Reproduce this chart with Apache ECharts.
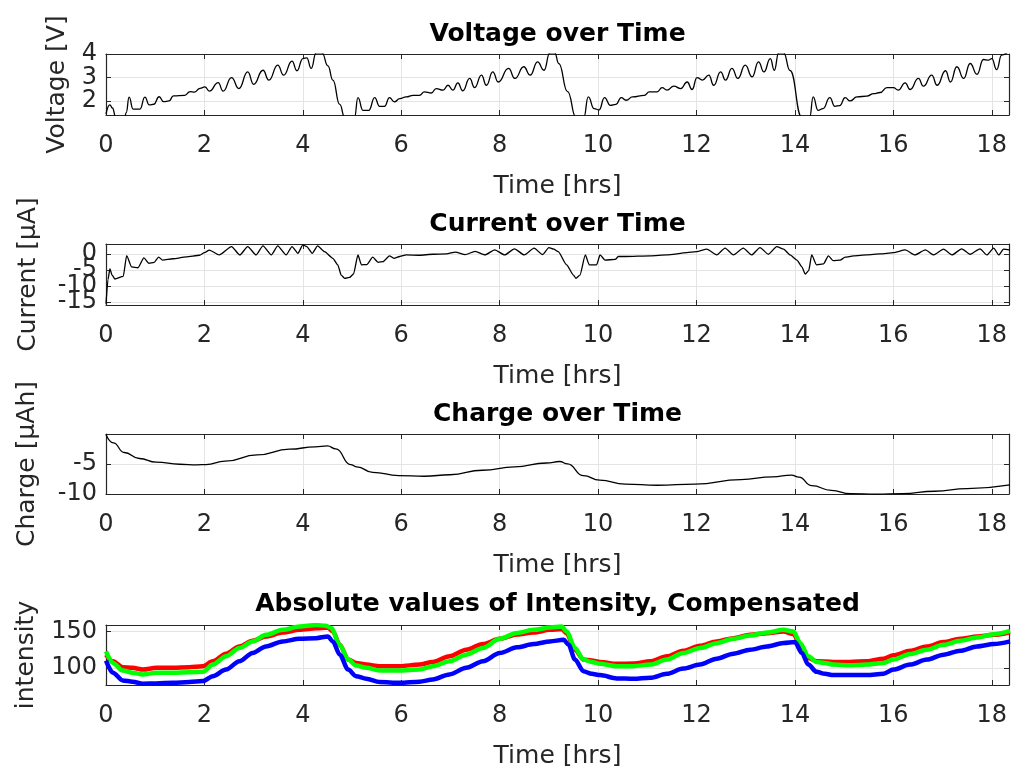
<!DOCTYPE html>
<html>
<head>
<meta charset="utf-8">
<script src="https://cdn.jsdelivr.net/npm/echarts@6/dist/echarts.min.js"></script>
<style>
  html, body { margin: 0; padding: 0; background: #ffffff; }
  #chart { width: 1013px; height: 774px; }
</style>
</head>
<body>
<div id="chart"></div>
<script>
// ---- data: [time in hours, value] ----
const voltage = [
  [0, 1.45], [0.08, 1.83], [0.13, 1.7], [0.2, 1.3], [0.38, 1.3], [0.41, 1.5], [0.47, 2.16], [0.55, 1.65],
  [0.69, 1.65], [0.79, 2.16], [0.88, 1.83], [0.97, 1.86], [1.08, 2.18], [1.17, 1.97], [1.28, 2.0], [1.37, 2.22],
  [1.6, 2.24], [1.71, 2.4], [1.8, 2.38], [1.91, 2.54], [2.01, 2.6], [2.1, 2.42], [2.28, 2.78], [2.38, 2.42],
  [2.55, 3.0], [2.7, 2.53], [2.88, 3.24], [3.0, 2.71], [3.19, 3.31], [3.31, 2.89], [3.49, 3.53], [3.61, 3.1],
  [3.78, 3.7], [3.88, 3.29], [4.0, 3.81], [4.08, 3.84], [4.17, 3.39], [4.27, 4.05], [4.39, 4.05], [4.51, 3.5],
  [4.61, 2.89], [4.75, 1.85], [4.85, 1.3],
  [5.05, 1.3], [5.12, 2.14], [5.22, 1.6], [5.34, 1.6], [5.46, 2.14], [5.56, 1.77], [5.66, 1.77], [5.76, 2.14],
  [5.86, 1.96], [5.97, 2.1], [6.1, 2.17], [6.24, 2.24], [6.37, 2.24], [6.47, 2.39], [6.61, 2.34], [6.71, 2.53],
  [6.85, 2.46], [6.95, 2.67], [7.05, 2.46], [7.15, 2.77], [7.25, 2.43], [7.39, 2.96], [7.49, 2.57], [7.63, 3.1],
  [7.73, 2.67], [7.86, 3.24], [7.97, 2.81], [8.18, 3.39], [8.31, 2.96], [8.49, 3.46], [8.62, 3.1], [8.77, 3.67],
  [8.9, 3.31], [9.02, 4.05], [9.12, 4.05], [9.2, 3.6], [9.38, 2.4], [9.55, 1.3],
  [9.71, 1.3], [9.8, 2.17], [9.92, 1.67], [10.02, 1.62], [10.13, 2.14], [10.25, 1.81], [10.36, 1.85], [10.47, 2.14],
  [10.57, 2.03], [10.7, 2.17], [10.94, 2.24], [11.04, 2.39], [11.2, 2.39], [11.3, 2.57], [11.4, 2.46], [11.54, 2.63],
  [11.68, 2.53], [11.81, 2.81], [11.91, 2.49], [12.01, 3.0], [12.12, 2.89], [12.25, 3.1], [12.35, 2.67], [12.49, 3.24],
  [12.59, 2.89], [12.72, 3.39], [12.84, 2.96], [12.99, 3.53], [13.13, 3.03], [13.26, 3.67], [13.37, 3.24], [13.5, 3.81],
  [13.58, 3.31], [13.67, 4.05], [13.77, 4.05], [13.9, 3.3], [14.14, 1.3],
  [14.3, 1.3], [14.37, 2.17], [14.47, 1.6], [14.57, 1.67], [14.71, 2.14], [14.81, 1.77], [14.91, 1.8], [15.02, 2.14],
  [15.12, 2.0], [15.26, 2.17], [15.46, 2.21], [15.6, 2.31], [15.73, 2.36], [15.87, 2.57], [16.0, 2.57], [16.1, 2.46],
  [16.24, 2.77], [16.34, 2.49], [16.51, 2.96], [16.61, 2.63], [16.78, 3.1], [16.89, 2.67], [17.06, 3.29], [17.16, 2.81],
  [17.29, 3.46], [17.43, 2.96], [17.56, 3.6], [17.7, 3.14], [17.83, 3.77], [17.93, 3.74], [18.0, 3.81], [18.1, 3.34],
  [18.2, 3.96], [18.37, 4.2]
];

const current = [
  [0, -15.5], [0.04, -8], [0.08, -4.6], [0.12, -6.5], [0.18, -7.8], [0.35, -7.0], [0.42, -0.5], [0.52, -4.0],
  [0.65, -4.3], [0.77, -1.2], [0.87, -2.9], [0.98, -2.6], [1.07, -1.0], [1.15, -1.9], [1.36, -1.5], [1.63, -0.9],
  [1.9, -0.4], [2.0, 0.4], [2.1, 1.2], [2.3, -0.3], [2.55, 2.3], [2.72, -0.3], [2.88, 2.3], [3.05, -0.3],
  [3.19, 2.5], [3.36, -0.3], [3.49, 2.5], [3.66, -0.3], [3.78, 2.3], [3.9, 0.2], [4.0, 2.8], [4.08, 2.3],
  [4.19, 0.2], [4.3, 2.5], [4.44, 0.7], [4.61, -1.35], [4.71, -3.4], [4.78, -6.6], [4.85, -7.6], [4.95, -7.3],
  [5.03, -6.25], [5.12, -0.3], [5.19, -3.4], [5.3, -3.3], [5.42, -1.0], [5.53, -2.6], [5.63, -2.4], [5.76, -0.6],
  [5.85, -1.35], [5.97, -0.8], [6.1, -0.3], [6.37, -0.4], [6.64, -0.1], [6.92, 0], [7.1, 0.6], [7.3, -0.2],
  [7.5, 0.8], [7.7, -0.3], [7.9, 1.3], [8.1, -0.3], [8.3, 1.6], [8.5, -0.3], [8.7, 1.8], [8.87, -0.2],
  [9.0, 2.0], [9.1, 1.5], [9.19, 0.7], [9.36, -3.4], [9.5, -6.6], [9.55, -7.6], [9.63, -6.6], [9.74, -0.3],
  [9.82, -3.4], [9.97, -3.4], [10.04, -0.3], [10.14, -1.9], [10.35, -1.7], [10.41, -0.8], [10.55, -0.8], [11.06, -0.6],
  [11.4, -0.3], [11.8, 0.4], [12.0, 0.7], [12.21, 1.5], [12.41, -0.3], [12.58, 1.8], [12.75, -0.3], [12.95, 1.8],
  [13.12, -0.3], [13.29, 2.0], [13.46, -0.1], [13.63, 2.3], [13.77, 1.5], [13.9, -0.3], [14.04, -1.9], [14.14, -4.0],
  [14.21, -6.25], [14.28, -5.2], [14.34, -0.3], [14.44, -3.4], [14.58, -3.1], [14.68, -0.6], [14.78, -2.1], [14.92, -1.9],
  [15.02, -1.0], [15.19, -0.6], [15.46, -0.3], [15.73, 0], [16.0, 0.4], [16.24, 1.25], [16.44, -0.3], [16.65, 1.25],
  [16.82, -0.3], [17.02, 1.5], [17.19, -0.3], [17.39, 1.6], [17.56, -0.1], [17.76, 1.6], [17.9, -0.3], [18.04, 1.8],
  [18.14, -0.3], [18.24, 1.5], [18.37, 1.2]
];

const charge = [
  [0, -0.1], [0.15, -1.5], [0.37, -3.1], [0.68, -4.1], [1.02, -4.7], [1.5, -5.05], [1.85, -5.15], [2.03, -5.1],
  [2.42, -4.55], [3.07, -3.5], [3.73, -2.55], [4.25, -2.15], [4.5, -2.0], [4.67, -2.5], [4.97, -5.1], [5.1, -5.5],
  [5.42, -6.4], [5.95, -6.95], [6.47, -7.05], [6.99, -6.8], [7.65, -6.05], [8.3, -5.5], [8.95, -4.85], [9.22, -4.6],
  [9.38, -5.0], [9.7, -6.95], [10.03, -7.7], [10.55, -8.35], [11.2, -8.55], [11.97, -8.35], [12.9, -7.6], [13.55, -7.15],
  [13.93, -6.85], [14.08, -7.2], [14.34, -8.6], [14.74, -9.4], [15.13, -9.95], [15.66, -10.05], [16.18, -9.95], [16.84, -9.55],
  [17.5, -9.1], [18.37, -8.5]
];

const intensityRed = [
  [0, 118], [0.14, 109], [0.34, 101], [0.54, 100], [0.75, 97.7], [1.02, 100], [1.36, 100], [1.69, 101],
  [1.97, 102.3], [2.17, 109], [2.44, 119.5], [2.71, 129.5], [2.98, 137.3], [3.25, 143.2], [3.59, 148.6], [3.93, 152.3],
  [4.27, 154.5], [4.51, 155.5], [4.61, 150], [4.75, 131.8], [4.92, 111.4], [5.08, 106.8], [5.29, 104.5], [5.56, 102.3],
  [5.97, 102.3], [6.37, 104.5], [6.64, 108.2], [6.98, 115.9], [7.32, 125], [7.66, 132.7], [8.0, 140], [8.35, 146],
  [8.69, 148.6], [9.02, 152.3], [9.26, 153.6], [9.36, 147.7], [9.53, 125], [9.7, 111.4], [9.87, 110], [10.04, 108.2],
  [10.38, 105.5], [10.72, 106], [11.06, 109], [11.4, 115.9], [11.73, 123.6], [12.07, 130.5], [12.41, 136.4], [12.75, 140.9],
  [13.09, 145.5], [13.43, 147.7], [13.77, 150], [13.97, 146.4], [14.11, 131.8], [14.27, 113.6], [14.44, 109], [14.78, 108.2],
  [15.12, 108.2], [15.46, 109], [15.8, 112.7], [16.0, 117.3], [16.34, 123.6], [16.68, 129.5], [17.02, 135.5], [17.36, 140],
  [17.7, 143.2], [18.04, 145.5], [18.37, 149]
];

const intensityGreen = [
  [0, 122.7], [0.14, 106.8], [0.34, 96.4], [0.54, 93.2], [0.75, 90.9], [1.02, 93.2], [1.36, 93.2], [1.69, 94],
  [1.97, 94.5], [2.17, 104.5], [2.44, 115.9], [2.71, 127.3], [2.98, 136.4], [3.25, 145.5], [3.59, 152.3], [3.93, 156.8],
  [4.27, 159], [4.47, 158], [4.58, 154.5], [4.75, 131.8], [4.92, 111.4], [5.08, 103.2], [5.29, 100], [5.56, 96.4],
  [5.97, 96.4], [6.37, 97.7], [6.64, 102.3], [6.98, 109], [7.32, 118.2], [7.66, 127.3], [8.0, 140], [8.35, 148],
  [8.69, 152.3], [9.02, 155.5], [9.26, 156.8], [9.36, 150], [9.53, 127.3], [9.7, 111.4], [9.87, 108.2], [10.04, 105.5],
  [10.38, 102.3], [10.72, 102.3], [11.06, 104.5], [11.4, 111.4], [11.73, 120.5], [12.07, 127.3], [12.41, 134], [12.75, 140],
  [13.09, 144.5], [13.43, 148.6], [13.77, 152.3], [13.97, 150], [14.11, 134], [14.27, 115.9], [14.44, 108.2], [14.61, 106.8],
  [14.78, 104.5], [15.12, 103.6], [15.46, 104.5], [15.8, 106.8], [16.0, 111.4], [16.34, 119.1], [16.68, 125], [17.02, 131.8],
  [17.36, 137.3], [17.7, 141.8], [18.04, 146.4], [18.37, 150.9]
];

const intensityBlue = [
  [0, 110], [0.14, 93.2], [0.34, 82.7], [0.54, 80.9], [0.75, 78.2], [1.02, 78.6], [1.36, 79.5], [1.69, 80.5],
  [1.97, 81.8], [2.17, 88.6], [2.44, 97.7], [2.71, 109], [2.98, 120.5], [3.25, 129.5], [3.59, 136.4], [3.93, 140],
  [4.27, 140.9], [4.51, 143.2], [4.61, 136.4], [4.75, 118.2], [4.92, 97.7], [5.08, 88.6], [5.29, 85], [5.56, 80.5],
  [5.97, 79.5], [6.37, 81], [6.64, 84], [6.98, 91], [7.32, 100], [7.66, 109], [8.0, 120.5], [8.35, 128.2],
  [8.69, 132.7], [9.02, 136.4], [9.3, 138.6], [9.4, 131.8], [9.53, 111.4], [9.7, 95.5], [9.87, 91.8], [10.04, 90],
  [10.38, 85.5], [10.72, 85], [11.06, 86.4], [11.4, 91.8], [11.73, 99], [12.07, 104.5], [12.41, 112.7], [12.75, 119.5],
  [13.09, 125], [13.43, 129.5], [13.77, 134.1], [14.0, 135.5], [14.14, 120.5], [14.27, 104.5], [14.44, 94.5], [14.61, 91.8],
  [14.78, 90], [15.12, 90], [15.46, 90], [15.8, 91.8], [16.0, 97.7], [16.34, 104.5], [16.68, 111.4], [17.02, 118.2],
  [17.36, 123.6], [17.7, 129.5], [18.04, 132.7], [18.37, 136.4]
];

// ---- axis ranges and tick labels ----
const timeRange = [0, 18.35];
const timeTicks = [0, 2, 4, 6, 8, 10, 12, 14, 16, 18];
const voltageRange = [1.4, 4.005];
const voltageTicks = [2, 3, 4];
const currentRange = [-15.9, 3.1];
const currentTicks = [-15, -10, -5, 0];
const chargeRange = [-10.005, -0.02];
const chargeTicks = [-10, -5];
const intensityRange = [76.4, 159];
const intensityTicks = [100, 150];

const titles = ['Voltage over Time', 'Current over Time', 'Charge over Time',
                'Absolute values of Intensity, Compensated'];
const yNames = ['Voltage [V]', 'Current [\u00B5A]', 'Charge [\u00B5Ah]', 'intensity'];
const xName = 'Time [hrs]';

// ---- layout ----
const FONT = 'DejaVu Sans';
const INK = '#262626';
const GRID_LINE = '#e4e4e4';
const plotLeft = 106, plotRight = 4;
const panels = [
  { top: 54,  height: 61, range: voltageRange,   ticks: voltageTicks,   nameGap: 36 },
  { top: 244, height: 61, range: currentRange,   ticks: currentTicks,   nameGap: 65 },
  { top: 434, height: 60, range: chargeRange,    ticks: chargeTicks,    nameGap: 66 },
  { top: 625, height: 60, range: intensityRange, ticks: intensityTicks, nameGap: 67 }
];

const grids = panels.map(p => ({ left: plotLeft, right: plotRight, top: p.top, height: p.height }));

const boxLine = { show: true, onZero: false, lineStyle: { color: INK, width: 1.2 } };
const inTick = { show: true, inside: true, length: 5, lineStyle: { color: INK, width: 1 } };

// Label slots: the two range ends (printed blank) around the real ticks, so
// the printed ticks are never the first/last label and all stay visible
// even where they crowd each other.
function labelSlots(range, ticks) {
  return [range[0]].concat(ticks, [range[1]]);
}

const xAxes = [];
const yAxes = [];
panels.forEach((p, i) => {
  xAxes.push({
    type: 'value', gridIndex: i, position: 'bottom',
    min: timeRange[0], max: timeRange[1], interval: 2,
    axisLine: boxLine, axisTick: inTick,
    axisLabel: {
      margin: 19, color: INK, fontSize: 24, fontFamily: FONT,
      showMinLabel: true, showMaxLabel: true, hideOverlap: false,
      formatter: v => (timeTicks.indexOf(v) >= 0 ? String(v) : '')
    },
    splitLine: { show: true, lineStyle: { color: GRID_LINE, width: 1 } },
    name: xName, nameLocation: 'middle', nameGap: 59,
    nameTextStyle: { color: INK, fontSize: 25, fontFamily: FONT }
  });
  yAxes.push({
    type: 'value', gridIndex: i, position: 'left',
    min: p.range[0], max: p.range[1],
    axisLine: boxLine,
    axisTick: Object.assign({ customValues: p.ticks }, inTick),
    axisLabel: {
      customValues: labelSlots(p.range, p.ticks), margin: 9, color: INK, fontSize: 24, fontFamily: FONT,
      hideOverlap: false,
      formatter: v => (p.ticks.indexOf(v) >= 0 ? String(v) : '')
    },
    splitLine: { show: true, lineStyle: { color: GRID_LINE, width: 1 } },
    name: yNames[i], nameLocation: 'middle', nameGap: p.nameGap,
    nameMoveOverlap: false,
    nameTextStyle: { color: INK, fontSize: 25, fontFamily: FONT }
  });
});
panels.forEach((p, i) => {
  xAxes.push({
    type: 'value', gridIndex: i, position: 'top',
    min: timeRange[0], max: timeRange[1], interval: 2,
    axisLine: boxLine, axisTick: inTick,
    axisLabel: { show: false }, splitLine: { show: false }
  });
  yAxes.push({
    type: 'value', gridIndex: i, position: 'right',
    min: p.range[0], max: p.range[1],
    axisLine: boxLine,
    axisTick: Object.assign({ customValues: p.ticks }, inTick),
    axisLabel: { show: false }, splitLine: { show: false }
  });
});

function lineSeries(idx, data, color, width, smooth) {
  return {
    type: 'line', xAxisIndex: idx, yAxisIndex: idx, data: data,
    showSymbol: false, symbol: 'none', clip: true,
    smooth: smooth, smoothMonotone: 'x',
    lineStyle: { color: color, width: width },
    silent: true, animation: false
  };
}

const series = [
  lineSeries(0, voltage, '#000000', 1.3, 0.5),
  lineSeries(1, current, '#000000', 1.3, 0.2),
  lineSeries(2, charge, '#000000', 1.3, 0.5),
  lineSeries(3, intensityRed, '#ff0000', 4.5, 0.3),
  lineSeries(3, intensityGreen, '#00ff00', 4.5, 0.3),
  lineSeries(3, intensityBlue, '#0000ff', 4.5, 0.3)
];

const titleY = [34, 224, 414, 604];
const graphic = titles.map((t, i) => ({
  type: 'text', x: (plotLeft + 1013 - plotRight) / 2, y: titleY[i],
  style: {
    text: t, fill: '#000000', font: 'bold 25px "' + FONT + '"',
    textAlign: 'center', textVerticalAlign: 'middle'
  }
}));

const chart = echarts.init(document.getElementById('chart'), null, { renderer: 'canvas' });
chart.setOption({
  animation: false,
  backgroundColor: '#ffffff',
  grid: grids,
  xAxis: xAxes,
  yAxis: yAxes,
  series: series,
  graphic: graphic
});
</script>
</body>
</html>
